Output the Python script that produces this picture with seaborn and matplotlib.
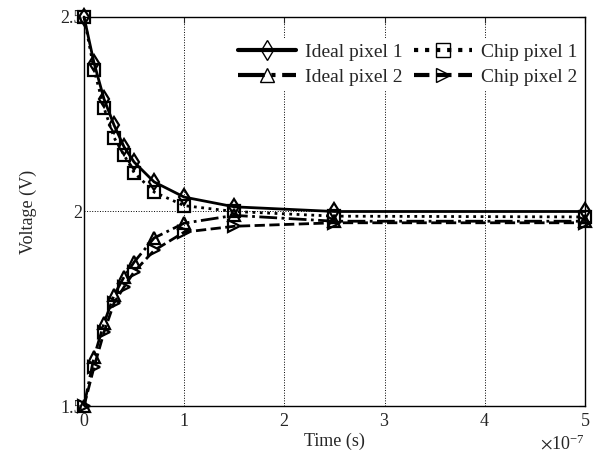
import numpy as np
import pandas as pd
import matplotlib
matplotlib.use("Agg")
import matplotlib.pyplot as plt
import seaborn as sns


# data (time in seconds, voltage in V)
time_s = np.array([0, 0.1, 0.2, 0.3, 0.4, 0.5, 0.7, 1.0, 1.5, 2.5, 5.0]) * 1e-7

ideal_pixel_1 = [2.5, 2.382, 2.289, 2.222, 2.166, 2.127, 2.076, 2.037, 2.012, 2.0, 2.0]
chip_pixel_1 = [2.5, 2.364, 2.266, 2.19, 2.145, 2.10, 2.05, 2.015, 2.0, 1.988, 1.986]
ideal_pixel_2 = [1.5, 1.626, 1.713, 1.785, 1.832, 1.870, 1.932, 1.970, 1.99, 1.975, 1.975]
chip_pixel_2 = [1.5, 1.60, 1.69, 1.765, 1.806, 1.845, 1.90, 1.947, 1.962, 1.971, 1.971]

labels = ["Ideal pixel 1", "Ideal pixel 2", "Chip pixel 1", "Chip pixel 2"]
series = [ideal_pixel_1, ideal_pixel_2, chip_pixel_1, chip_pixel_2]
markers = ["d", "^", "s", ">"]
styles = ["-", "-.", ":", "--"]


sns.set_style("white")
plt.rcParams['font.family'] = ['Liberation Serif', 'DejaVu Serif']
plt.rcParams['mathtext.fontset'] = 'stix'

fig = plt.figure(figsize=(6.15, 4.69), dpi=100)
ax = fig.add_axes([0.1366, 0.1343, 0.8144, 0.8295])

for lab, vals, mk, ls in zip(labels, series, markers, styles):
    df = pd.DataFrame({"t": time_s, "v": vals})
    sns.lineplot(data=df, x="t", y="v", ax=ax, label=lab, color="black",
                 linestyle=ls, linewidth=2, marker=mk, markersize=8,
                 markerfacecolor="none", markeredgecolor="black",
                 markeredgewidth=1.6, clip_on=False)

ax.set_xlim(0, 5e-7)
ax.set_ylim(1.5, 2.5)
ax.set_xticks(np.arange(0, 6) * 1e-7)
ax.set_yticks([1.5, 2, 2.5])
ax.set_yticklabels(["1.5", "2", "2.5"])

fmt = matplotlib.ticker.ScalarFormatter(useMathText=True)
fmt.set_powerlimits((0, 0))
ax.xaxis.set_major_formatter(fmt)
ax.xaxis.get_offset_text().set_fontsize(13)

ax.grid(True, linestyle=":", color="black", linewidth=0.7)
ax.tick_params(direction="in", top=True, right=True, length=4, labelsize=13)
ax.tick_params(axis="y", pad=1)
ax.tick_params(axis="x", pad=5)
for sp in ax.spines.values():
    sp.set_color("black")
    sp.set_linewidth(1)

ax.set_xlabel("Time (s)", fontsize=13, labelpad=2)
ax.set_ylabel("Voltage (V)", fontsize=13, labelpad=17)

leg = ax.legend(ncol=2, loc="upper right", bbox_to_anchor=(0.997, 0.947),
                fontsize=14, frameon=True, fancybox=False, edgecolor="none",
                handlelength=3.0, columnspacing=0.6, handletextpad=0.45,
                labelspacing=0.36, borderaxespad=0, borderpad=0.3)
leg.get_frame().set_alpha(1)
for h in leg.get_lines():
    h.set_linewidth(3)
    h.set_markeredgewidth(1)
    h.set_markersize(10)

fig.savefig("out.png", dpi=100)
